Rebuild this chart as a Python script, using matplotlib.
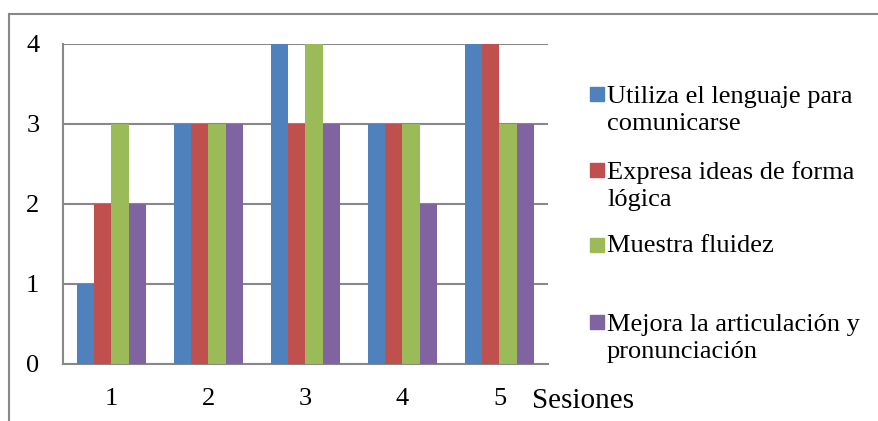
import matplotlib
matplotlib.use("Agg")
import matplotlib.pyplot as plt
from matplotlib.lines import Line2D
from matplotlib.patches import Rectangle
import numpy as np

plt.rcParams['font.family'] = ['Liberation Serif', 'DejaVu Serif']

sesiones = [1, 2, 3, 4, 5]
utiliza = [1, 3, 4, 3, 4]
expresa = [2, 3, 3, 3, 4]
muestra = [3, 3, 4, 3, 3]
mejora = [2, 3, 3, 2, 3]

labels = ["Utiliza el lenguaje para\ncomunicarse",
          "Expresa ideas de forma\nlógica",
          "Muestra fluidez",
          "Mejora la articulación y\npronunciación"]
colors = ["#4F81BD", "#C0504D", "#9BBB59", "#8064A2"]
series = [utiliza, expresa, muestra, mejora]

W, H = 879, 421
fig = plt.figure(figsize=(W / 100, H / 100), dpi=100)

# plot area in pixels: left 63, right 548, top 44, bottom 364
ax = fig.add_axes([63 / W, (H - 364) / H, (548 - 63) / W, (364 - 44) / H])

x = np.array(sesiones)
bw = 0.18
for i, vals in enumerate(series):
    ax.bar(x + (i - 1.5) * bw, vals, width=bw, color=colors[i], zorder=3)

ax.set_xlim(0.5, 5.5)
ax.set_ylim(0, 4)
ax.set_yticks([0, 1, 2, 3, 4])
ax.set_xticks(sesiones)
ax.yaxis.grid(True, color="#888888", linewidth=1.5)
ax.set_axisbelow(True)
for s in ["top", "right"]:
    ax.spines[s].set_visible(False)
for s in ["left", "bottom"]:
    ax.spines[s].set_color("#888888")
    ax.spines[s].set_linewidth(1.5)
ax.tick_params(length=0, labelsize=19)
ax.tick_params(axis="y", pad=17)
ax.tick_params(axis="x", pad=17)

fig.text(532 / W, (H - 408) / H, "Sesiones", fontsize=21, va="baseline", ha="left")

# legend drawn by hand (first-line baselines, pixels from top)
leg_base = [101, 177, 252, 329]
line_px = 29
for lab, col, yb in zip(labels, colors, leg_base):
    fig.patches.append(Rectangle((590 / W, (H - yb) / H), 14 / W, 14 / H,
                                 transform=fig.transFigure, color=col))
    extra = lab.count("\n") * line_px
    fig.text(607 / W, (H - yb - extra) / H, lab, fontsize=19, va="baseline",
             ha="left", linespacing=1.32)

# outer chart border (partly off the canvas)
fig.lines.append(Line2D([9 / W, 1.0], [(H - 14) / H] * 2, transform=fig.transFigure,
                        color="#888888", linewidth=1.5))
fig.lines.append(Line2D([9 / W] * 2, [0.0, (H - 14) / H], transform=fig.transFigure,
                        color="#888888", linewidth=1.5))

fig.savefig("out.png", dpi=100)
